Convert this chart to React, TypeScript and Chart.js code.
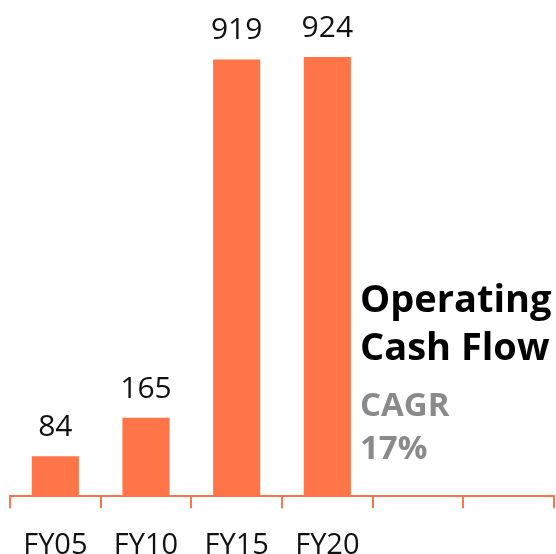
import React, { useEffect, useRef } from "react";
import { Chart, registerables } from "chart.js";

Chart.register(...registerables);

const categories = ["FY05", "FY10", "FY15", "FY20", "", ""];
const cashFlow = [84, 165, 919, 924, null, null];
const titleLines = ["Operating", "Cash Flow"];
const cagrLines = ["CAGR", "17%"];

const ORANGE = "#FF7548";
const FONT = "'Open Sans', 'Noto Sans', sans-serif";

const labelPlugin = {
  id: "valueLabels",
  afterDatasetsDraw(chart: any) {
    const { ctx } = chart;
    const meta = chart.getDatasetMeta(0);
    ctx.save();
    ctx.fillStyle = "#111";
    ctx.font = `30px ${FONT}`;
    ctx.textAlign = "center";
    ctx.textBaseline = "alphabetic";
    meta.data.forEach((bar: any, i: number) => {
      const v = cashFlow[i];
      if (v == null) return;
      ctx.fillText(String(v), bar.x, bar.y - 20);
    });
    // annotation text
    ctx.textAlign = "left";
    ctx.fillStyle = "#000";
    ctx.font = `bold 38px ${FONT}`;
    ctx.fillText(titleLines[0], 360, 312);
    ctx.fillText(titleLines[1], 360, 360);
    ctx.fillStyle = "#8a8a8a";
    ctx.font = `bold 33px ${FONT}`;
    ctx.fillText(cagrLines[0], 360, 416);
    ctx.fillText(cagrLines[1], 360, 459);
    ctx.restore();
  },
};

export default function App() {
  const ref = useRef<HTMLCanvasElement>(null);
  useEffect(() => {
    if (!ref.current) return;
    const chart = new Chart(ref.current, {
      type: "bar",
      data: {
        labels: categories,
        datasets: [
          {
            data: cashFlow as any,
            backgroundColor: ORANGE,
            barPercentage: 0.52,
            categoryPercentage: 1,
          },
        ],
      },
      options: {
        animation: false,
        responsive: false,
        maintainAspectRatio: false,
        layout: { padding: { left: 10, right: 2, top: 21, bottom: -29 } },
        plugins: { legend: { display: false }, tooltip: { enabled: false } },
        scales: {
          y: { display: false, min: 0, max: 1000 },
          x: {
            grid: {
              display: true,
              drawOnChartArea: false,
              drawTicks: true,
              tickLength: 12,
              color: ORANGE,
              lineWidth: 2,
            },
            border: { display: true, color: ORANGE, width: 2 },
            ticks: {
              color: "#111",
              font: { family: FONT, size: 29 },
              padding: 20,
              maxRotation: 0,
              autoSkip: false,
            },
          },
        },
      },
      plugins: [labelPlugin],
    });
    return () => chart.destroy();
  }, []);
  return (
    <div style={{ position: "fixed", left: 0, top: 0, width: 556, height: 554, background: "#fff" }}>
      <canvas ref={ref} width={556} height={554} style={{ width: 556, height: 554 }} />
    </div>
  );
}
